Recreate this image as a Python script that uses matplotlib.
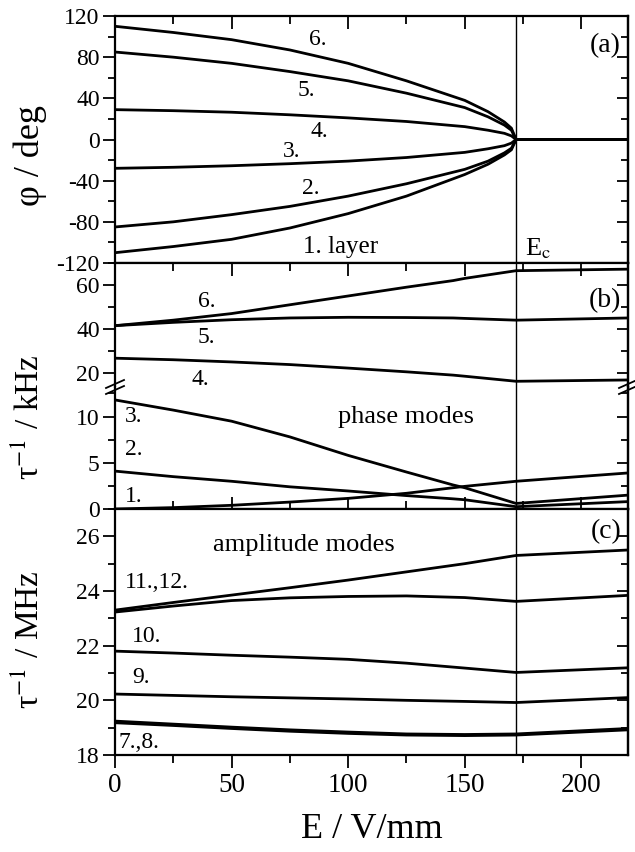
import numpy as np
import matplotlib
matplotlib.use('Agg')
import matplotlib.pyplot as plt
from matplotlib.lines import Line2D
from matplotlib.ticker import MultipleLocator

plt.rcParams['font.family'] = ['Liberation Serif', 'DejaVu Serif']
plt.rcParams['mathtext.fontset'] = 'stix'
plt.rcParams['axes.unicode_minus'] = False

Ec = 172

# panel (a): layer angles
E_a = [0, 25, 50, 75, 100, 125, 150, 160, 167, 170, 172, 220]
phi6 = [110, 104, 97, 87, 74, 57, 38, 27, 17, 11, 0, 0]
phi5 = [85, 80, 74, 66, 57, 45, 31, 22, 14, 9, 0, 0]
phi4 = [29, 28, 26.5, 24, 21, 17.5, 12.5, 9, 6, 3.5, 0, 0]
phi3 = [-28, -27, -25.5, -23.5, -21, -17.5, -12.5, -9, -6, -3.5, 0, 0]
phi2 = [-85, -80, -73, -65, -55, -43, -29, -21, -13, -8.5, 0, 0]
phi1 = [-110, -104, -97, -86, -72, -55, -34, -24, -15, -10, 0, 0]

# panel (b): phase modes, kHz
E_b = [0, 25, 50, 75, 100, 125, 145, 150, 172, 220]
ph6 = [41.5, 44, 47, 51, 55, 59, 62, 63, 66.5, 67.2]
ph5 = [41.5, 43, 44.2, 45, 45.3, 45.2, 45, 44.8, 44, 45]
ph4 = [26.7, 26, 25, 23.8, 22.2, 20.5, 19, 18.5, 16.2, 16.8]
ph3 = [11.8, 10.7, 9.5, 7.8, 5.8, 4.0, 2.6, 2.3, 0.6, 1.5]
ph2 = [4.1, 3.5, 3.0, 2.4, 1.95, 1.45, 1.1, 1.0, 0.25, 0.8]
ph1 = [0, 0.15, 0.4, 0.75, 1.15, 1.7, 2.3, 2.45, 3.0, 3.9]

# panel (c): amplitude modes, MHz
E_c = [0, 25, 50, 75, 100, 125, 150, 172, 220]
am12 = [23.3, 23.58, 23.85, 24.12, 24.4, 24.7, 25.0, 25.3, 25.5]
am11 = [23.23, 23.45, 23.65, 23.75, 23.8, 23.82, 23.76, 23.62, 23.84]
am10 = [21.8, 21.73, 21.65, 21.58, 21.5, 21.36, 21.18, 21.02, 21.19]
am9 = [20.23, 20.18, 20.13, 20.09, 20.05, 20.0, 19.96, 19.92, 20.1]
am8 = [19.24, 19.13, 19.02, 18.92, 18.84, 18.77, 18.75, 18.77, 18.97]
am7 = [19.18, 19.08, 18.97, 18.87, 18.79, 18.73, 18.71, 18.73, 18.92]

W, H = 635, 852
fig = plt.figure(figsize=(W / 100, H / 100), dpi=100)

def box(top, bot):
    # pixel rows -> figure fraction
    return [115 / W, 1 - bot / H, (628 - 115) / W, (bot - top) / H]

ax_a = fig.add_axes(box(16, 263))
ax_b1 = fig.add_axes(box(263, 387))
ax_b2 = fig.add_axes(box(387, 509))
ax_c = fig.add_axes(box(509, 755))
axes = [ax_a, ax_b1, ax_b2, ax_c]

lw = 2.0
for y in [phi1, phi2, phi3, phi4, phi5, phi6]:
    ax_a.plot(E_a, y, color='black', lw=lw)
for y in [ph4, ph5, ph6]:
    ax_b1.plot(E_b, y, color='black', lw=lw)
for y in [ph1, ph2, ph3]:
    ax_b2.plot(E_b, y, color='black', lw=lw)
for y in [am7, am8, am9, am10, am11, am12]:
    ax_c.plot(E_c, y, color='black', lw=lw)

ax_a.set_ylim(-120, 120)
ax_b1.set_ylim(13.6, 70)
ax_b2.set_ylim(0, 13.2)
ax_c.set_ylim(18, 27)

ax_a.yaxis.set_major_locator(MultipleLocator(40))
ax_a.yaxis.set_minor_locator(MultipleLocator(20))
ax_b1.yaxis.set_major_locator(MultipleLocator(20))
ax_b1.yaxis.set_minor_locator(MultipleLocator(10))
ax_b2.yaxis.set_major_locator(MultipleLocator(5))
ax_b2.yaxis.set_minor_locator(MultipleLocator(2.5))
ax_c.yaxis.set_major_locator(MultipleLocator(2))
ax_c.yaxis.set_minor_locator(MultipleLocator(1))

for ax in axes:
    ax.set_xlim(0, 220)
    ax.xaxis.set_major_locator(MultipleLocator(50))
    ax.xaxis.set_minor_locator(MultipleLocator(25))
    ax.axvline(Ec, color='black', lw=1.0)
    for s in ax.spines.values():
        s.set_linewidth(1.6)
    ax.tick_params(axis='y', which='both', left=True, right=False, direction='out',
                   labelsize=17, width=1.3, pad=2)
    ax.tick_params(axis='y', which='major', length=9)
    ax.tick_params(axis='y', which='minor', length=5)
    ax.tick_params(axis='x', which='both', bottom=False, top=True, labelbottom=False,
                   direction='in', width=1.3)
    ax.tick_params(axis='x', which='major', length=9)
    ax.tick_params(axis='x', which='minor', length=6)
    # right-side inward ticks
    sec = ax.secondary_yaxis('right')
    sec.yaxis.set_major_locator(ax.yaxis.get_major_locator())
    sec.yaxis.set_minor_locator(ax.yaxis.get_minor_locator())
    sec.tick_params(axis='y', which='both', direction='in', labelright=False, width=1.3)
    sec.tick_params(axis='y', which='major', length=8)
    sec.tick_params(axis='y', which='minor', length=5)
    sec.spines['right'].set_linewidth(1.6)

ax_b1.spines['bottom'].set_visible(False)
ax_b2.spines['top'].set_visible(False)
ax_b2.tick_params(axis='x', which='both', top=False)

ax_c.tick_params(axis='x', which='both', bottom=True, labelbottom=True, direction='out',
                 labelsize=19.5, pad=4)

# break marks on the split axis of (b)
yb = 1 - 387 / H
for xs in [115, 628]:
    for dy in [-3, 3]:
        fig.add_artist(Line2D([(xs - 9) / W, (xs + 9) / W],
                              [yb + (dy - 4) / H, yb + (dy + 4) / H],
                              color='black', lw=1.3))

# text labels
fs = 17
ax_a.text(83, 97, '6.', fontsize=fs, va='center')
ax_a.text(78.5, 48, '5.', fontsize=fs, va='center')
ax_a.text(84, 8, '4.', fontsize=fs, va='center')
ax_a.text(72, -12, '3.', fontsize=fs, va='center')
ax_a.text(80, -48, '2.', fontsize=fs, va='center')
ax_a.text(80.5, -104, '1. layer', fontsize=fs + 1, va='center')
ax_a.text(217, 91, '(a)', fontsize=20, ha='right', va='center')
ax_a.text(176, -113, r'E$_\mathrm{c}$', fontsize=19, va='baseline')

ax_b1.text(35.5, 52.7, '6.', fontsize=fs, va='center')
ax_b1.text(35.5, 35.9, '5.', fontsize=fs, va='center')
ax_b1.text(33, 16.8, '4.', fontsize=fs, va='center')
ax_b1.text(217, 53, '(b)', fontsize=20, ha='right', va='center')

ax_b2.text(4.3, 10.0, '3.', fontsize=fs, va='center')
ax_b2.text(4.3, 6.4, '2.', fontsize=fs, va='center')
ax_b2.text(4.3, 1.4, '1.', fontsize=fs, va='center')
ax_b2.text(95.6, 10.0, 'phase modes', fontsize=19, va='center')

ax_c.text(42, 25.7, 'amplitude modes', fontsize=19, va='center')
ax_c.text(217, 26.17, '(c)', fontsize=20, ha='right', va='center')
ax_c.text(4.3, 24.3, '11.,12.', fontsize=fs, va='center')
ax_c.text(7.4, 22.34, '10.', fontsize=fs, va='center')
ax_c.text(7.4, 20.84, '9.', fontsize=fs, va='center')
ax_c.text(1.3, 18.47, '7.,8.', fontsize=fs, va='center')

# axis titles
fig.text(30 / W, 1 - 155 / H, 'φ / deg', rotation=90, fontsize=26,
         ha='center', va='center')
fig.text(30 / W, 1 - 417 / H, r'τ$^{\mathrm{-1}}$ / kHz', rotation=90, fontsize=24,
         ha='center', va='center')
fig.text(30 / W, 1 - 640 / H, r'τ$^{\mathrm{-1}}$ / MHz', rotation=90, fontsize=24,
         ha='center', va='center')
fig.text(372 / W, 1 - 830 / H, 'E / V/mm', fontsize=26, ha='center', va='center')

fig.savefig('out.png', dpi=100)
